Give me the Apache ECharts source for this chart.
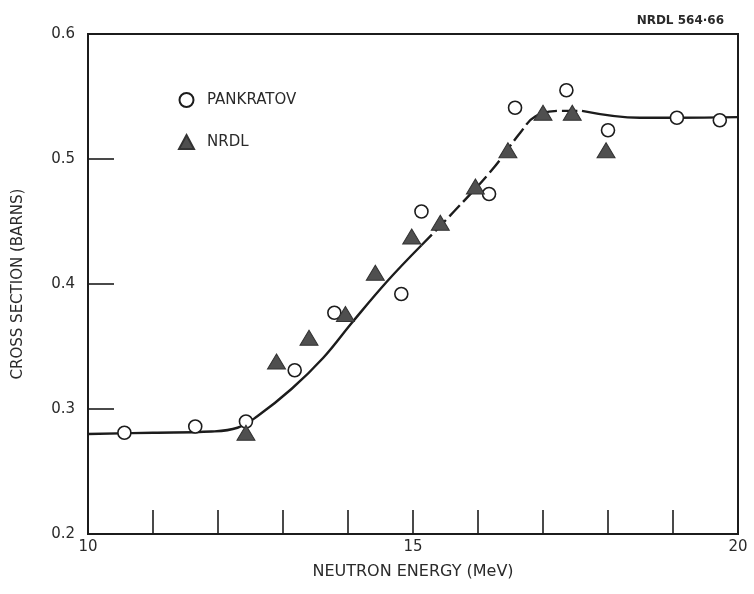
<!DOCTYPE html>
<html>
<head>
<meta charset="utf-8">
<script src="https://cdn.jsdelivr.net/npm/echarts@6/dist/echarts.min.js"></script>
<style>
html,body{margin:0;padding:0;background:#fff;}
#c{width:754px;height:594px;}
</style>
</head>
<body>
<div id="c"></div>
<script>
// ---- data ----
var pankX = [10.56, 11.65, 12.43, 13.18, 13.79, 14.82, 15.13, 16.17, 16.57, 17.36, 18.00, 19.06, 19.72];
var pankY = [0.281, 0.286, 0.290, 0.331, 0.377, 0.392, 0.458, 0.472, 0.541, 0.555, 0.523, 0.533, 0.531];

var nrdlX = [12.43, 12.90, 13.40, 13.96, 14.42, 14.98, 15.42, 15.96, 16.46, 17.00, 17.45, 17.97];
var nrdlY = [0.281, 0.338, 0.357, 0.376, 0.409, 0.438, 0.449, 0.478, 0.507, 0.537, 0.537, 0.507];

var curveX = [10.0, 11.0, 11.9, 12.3, 12.6, 13.13, 13.62, 14.06, 14.60, 15.13, 15.63, 16.21, 16.65, 16.88, 17.25, 17.60, 18.49, 19.06, 20.0];
var curveY = [0.280, 0.281, 0.282, 0.285, 0.294, 0.316, 0.341, 0.369, 0.402, 0.431, 0.458, 0.491, 0.521, 0.534, 0.5385, 0.5385, 0.533, 0.533, 0.5335];

var xTickLabels = ['10', '15', '20'];
var yTickLabels = ['0.2', '0.3', '0.4', '0.5', '0.6'];

var seriesNames = ['PANKRATOV', 'NRDL'];
var xName = 'NEUTRON ENERGY (MeV)';
var yName = 'CROSS SECTION (BARNS)';
var figId = 'NRDL 564\u00B766';

// ---- build ----
function zip(xs, ys) { return xs.map(function (x, i) { return [x, ys[i]]; }); }
var curve = zip(curveX, curveY);
var dashStart = 9, dashEnd = 15;
var seg1 = curve.slice(0, dashStart + 1);
var seg2 = curve.slice(dashStart, dashEnd + 1);
var seg3 = curve.slice(dashEnd);

var ink = '#1c1c1c';
var font = 'DejaVu Sans';

var chart = echarts.init(document.getElementById('c'), null, { renderer: 'canvas' });
var lineStyleBase = { color: ink, width: 2.4 };

chart.setOption({
  backgroundColor: '#ffffff',
  animation: false,
  textStyle: { fontFamily: font, color: '#2a2a2a' },
  grid: { left: 88, right: 16, top: 34, bottom: 60, show: true, borderColor: ink, borderWidth: 2, backgroundColor: 'transparent' },
  legend: {
    data: seriesNames,
    orient: 'vertical',
    left: 173, top: 87,
    itemWidth: 15, itemHeight: 14, itemGap: 26,
    textStyle: { fontFamily: font, fontSize: 15, color: '#2a2a2a', padding: [0, 0, 0, 8] }
  },
  graphic: [{
    type: 'text', right: 30, top: 15,
    style: { text: figId, fontFamily: font, fontSize: 12, fontWeight: 'bold', fill: '#2a2a2a' }
  }],
  xAxis: {
    type: 'value', min: 10, max: 20, interval: 1,
    name: xName, nameLocation: 'middle', nameGap: 30,
    nameTextStyle: { fontFamily: font, fontSize: 16, color: '#2a2a2a' },
    axisLine: { show: true, lineStyle: { color: ink, width: 2 } },
    axisTick: { show: true, inside: true, length: 24, lineStyle: { color: ink, width: 1.6 } },
    axisLabel: {
      margin: 6, fontSize: 15, color: '#2a2a2a', fontFamily: font,
      formatter: function (v) { var s = String(Math.round(v)); return xTickLabels.indexOf(s) >= 0 ? s : ''; }
    },
    splitLine: { show: false }
  },
  yAxis: {
    type: 'value', min: 0.2, max: 0.6, interval: 0.1,
    name: yName, nameLocation: 'middle', nameGap: 62,
    nameTextStyle: { fontFamily: font, fontSize: 15, color: '#2a2a2a' },
    axisLine: { show: true, lineStyle: { color: ink, width: 2 } },
    axisTick: { show: true, inside: true, length: 26, lineStyle: { color: ink, width: 1.6 } },
    axisLabel: {
      margin: 13, fontSize: 15, color: '#2a2a2a', fontFamily: font,
      formatter: function (v) { var s = v.toFixed(1); return yTickLabels.indexOf(s) >= 0 ? s : ''; }
    },
    splitLine: { show: false }
  },
  series: [
    { type: 'line', name: 'fit1', data: seg1, smooth: 0.4, showSymbol: false, symbol: 'none', lineStyle: lineStyleBase, z: 1, silent: true },
    { type: 'line', name: 'fit2', data: seg2, smooth: 0.4, showSymbol: false, symbol: 'none', lineStyle: { color: ink, width: 2.4, type: [15, 5] }, z: 1, silent: true },
    { type: 'line', name: 'fit3', data: seg3, smooth: 0.4, showSymbol: false, symbol: 'none', lineStyle: lineStyleBase, z: 1, silent: true },
    {
      type: 'scatter', name: seriesNames[0], data: zip(pankX, pankY),
      symbol: 'circle', symbolSize: 13,
      itemStyle: { color: '#ffffff', borderColor: ink, borderWidth: 1.6, opacity: 1 }, z: 3
    },
    {
      type: 'scatter', name: seriesNames[1], data: zip(nrdlX, nrdlY),
      symbol: 'triangle', symbolSize: [18, 15],
      itemStyle: { color: '#4f4f4f', borderColor: '#333333', borderWidth: 1, opacity: 1 }, z: 4
    }
  ]
});
</script>
</body>
</html>
